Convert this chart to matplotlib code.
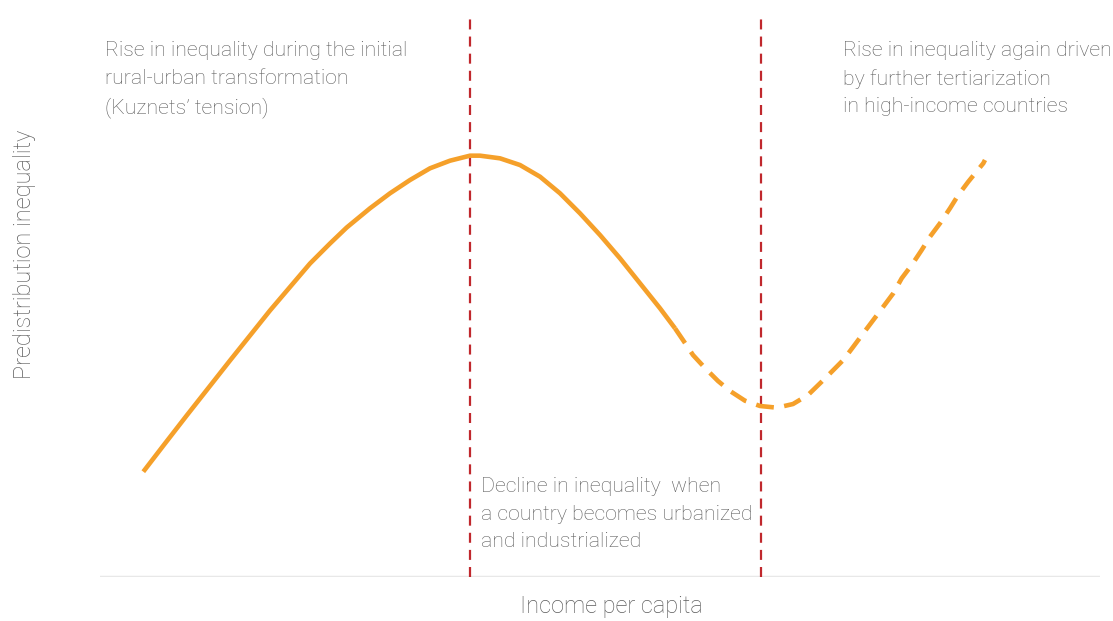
import matplotlib.pyplot as plt

# Conceptual Kuznets-style curve
income_solid = [4.33, 6.33, 8.67, 10.67, 13.0, 15.0, 17.0, 19.0, 21.0, 23.0, 24.67, 27.0, 29.0,
                31.0, 33.0, 35.0, 37.0, 38.0, 40.0, 42.0, 44.0, 46.0, 48.0, 50.0, 52.0, 54.0,
                56.0, 57.5]
ineq_solid = [18.25, 22.76, 27.99, 32.39, 37.52, 41.85, 46.19, 50.26, 54.33, 57.80, 60.57, 63.90,
              66.50, 68.80, 70.83, 72.15, 73.02, 73.02, 72.56, 71.40, 69.38, 66.50, 63.03, 59.27,
              55.23, 50.90, 46.57, 43.10]

income_dashed = [57.5, 58.5, 59.3, 60.5, 61.8, 63.0, 64.5, 66.0, 67.7, 69.3, 70.8, 72.17, 73.17,
                 74.33, 75.33, 76.33, 77.33, 78.33, 79.33, 80.17, 81.17, 82.17, 83.0, 84.0, 85.0,
                 85.83, 86.83, 88.33, 88.5]
ineq_dashed = [43.10, 40.55, 38.47, 36.22, 33.97, 32.24, 30.55, 29.64, 29.34, 29.98, 31.54, 33.85,
               35.58, 37.61, 39.91, 42.24, 44.54, 46.85, 49.17, 51.77, 54.07, 56.67, 58.98, 61.30,
               63.90, 66.20, 68.51, 71.70, 72.27]

phase_breaks = [37.0, 66.1]

label_left = "Rise in inequality during the initial\nrural-urban transformation\n(Kuznets\u2019 tension)"
label_mid = "Decline in inequality  when\na country becomes urbanized\nand industrialized"
label_right = "Rise in inequality again driven\nby further tertiarization\nin high-income countries"

orange = "#f5a02a"
red = "#c0282d"
grey = "#5c5c5c"

plt.rcParams["font.family"] = ["Roboto", "DejaVu Sans"]
plt.rcParams["font.weight"] = "light"

fig = plt.figure(figsize=(11.13, 6.21), dpi=100)
ax = fig.add_axes([100 / 1113, 44 / 621, 1000 / 1113, 577 / 621])
ax.set_xlim(0, 100)
ax.set_ylim(0, 100)
ax.axis("off")

# base axis line
ax.axhline(0, color="#e8e8e8", lw=2.5, zorder=1)

for xb in phase_breaks:
    ax.vlines(xb, 0, 97.4, color=red, lw=1.6, linestyles=(0, (4.5, 3.2)), zorder=2)

ax.plot(income_solid, ineq_solid, color=orange, lw=3.3, solid_capstyle="butt",
        solid_joinstyle="round", zorder=3)
ax.plot(income_dashed, ineq_dashed, color=orange, lw=3.3, dashes=(3.9, 2.3),
        dash_capstyle="butt", dash_joinstyle="round", zorder=3)

tk = dict(color=grey, fontsize=15.3, fontweight="light", va="top", ha="left", linespacing=1.57)
ax.text(0.5, 92.9, label_left, **tk)
ax.text(38.1, 17.3, label_mid, **tk)
ax.text(74.3, 92.9, label_right, **tk)

fig.text(25 / 1113, 1 - 254 / 621, "Predistribution inequality", rotation=90,
         ha="center", va="center", color=grey, fontsize=17, fontweight="light")
fig.text(611 / 1113, 1 - 607 / 621, "Income per capita", ha="center", va="center",
         color=grey, fontsize=17, fontweight="light")

fig.savefig("out.png", dpi=100)
